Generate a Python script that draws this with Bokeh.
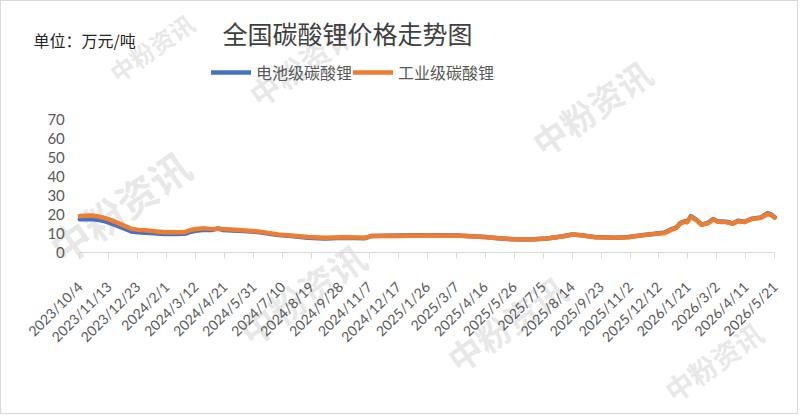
import math
import pandas as pd
from bokeh.plotting import figure
from bokeh.models import (ColumnDataSource, FixedTicker, Legend, LegendItem,
                          Label, Range1d)
from bokeh.embed import file_html
from bokeh.resources import INLINE

title_text = "全国碳酸锂价格走势图"
unit_text = "单位：万元/吨"
series_names = ["电池级碳酸锂", "工业级碳酸锂"]
watermark_text = "中粉资讯"

dates = [
    "2023-10-04", "2023-10-20", "2023-10-28", "2023-11-08", "2023-11-17",
    "2023-11-26", "2023-12-05", "2023-12-14", "2023-12-24", "2024-01-02",
    "2024-01-15", "2024-01-29", "2024-02-12", "2024-02-26", "2024-03-04",
    "2024-03-12", "2024-03-25", "2024-04-03", "2024-04-12", "2024-04-18",
    "2024-05-10", "2024-06-06", "2024-07-04", "2024-07-22", "2024-08-14",
    "2024-09-06", "2024-10-04", "2024-11-01", "2024-11-10", "2024-12-17",
    "2025-01-23", "2025-03-10", "2025-04-15", "2025-05-08", "2025-05-26",
    "2025-06-09", "2025-06-23", "2025-07-10", "2025-07-23", "2025-08-01",
    "2025-08-14", "2025-08-27", "2025-09-14", "2025-10-12", "2025-10-31",
    "2025-11-18", "2025-12-06", "2025-12-20", "2025-12-29", "2026-01-05",
    "2026-01-10", "2026-01-17", "2026-01-20", "2026-01-25", "2026-02-02",
    "2026-02-09", "2026-02-18", "2026-02-25", "2026-03-03", "2026-03-15",
    "2026-03-24", "2026-03-31", "2026-04-09", "2026-04-19", "2026-05-02",
    "2026-05-11", "2026-05-16", "2026-05-21",
]

battery = [
    17.4, 17.6, 17.2, 16.3, 15.1, 13.8, 12.4, 11.0, 10.5, 10.3,
    10.0, 9.6, 9.6, 9.7, 10.6, 11.3, 11.9, 11.7, 12.6, 11.8,
    11.4, 10.7, 9.1, 8.5, 7.7, 7.3, 7.6, 7.4, 8.6, 8.8,
    8.9, 8.8, 8.0, 7.3, 6.8, 6.7, 6.8, 7.3, 7.9, 8.4,
    9.4, 9.0, 8.0, 7.7, 8.0, 9.0, 9.7, 10.4, 12.1, 13.1,
    15.3, 16.5, 16.0, 19.1, 17.1, 14.6, 15.6, 17.5, 16.3, 16.1,
    15.2, 16.6, 16.1, 17.7, 18.4, 20.6, 19.9, 18.5,
]

industrial = [
    19.2, 19.4, 19.0, 18.0, 16.8, 15.4, 13.9, 12.4, 11.8, 11.6,
    11.1, 10.6, 10.6, 10.6, 11.6, 12.3, 12.6, 12.2, 12.4, 12.3,
    11.8, 11.0, 9.4, 8.8, 8.0, 7.6, 7.9, 7.6, 8.5, 8.6,
    8.8, 8.7, 8.0, 7.3, 6.8, 6.7, 6.8, 7.2, 7.9, 8.3,
    9.3, 8.9, 7.9, 7.6, 7.9, 8.9, 9.6, 10.2, 11.8, 12.8,
    15.0, 16.2, 15.8, 18.7, 16.8, 14.4, 15.4, 17.3, 16.1, 15.9,
    15.0, 16.4, 15.9, 17.5, 18.2, 20.3, 19.6, 18.2,
]

tick_labels = [
    "2023/10/4", "2023/11/13", "2023/12/23", "2024/2/1", "2024/3/12",
    "2024/4/21", "2024/5/31", "2024/7/10", "2024/8/19", "2024/9/28",
    "2024/11/7", "2024/12/17", "2025/1/26", "2025/3/7", "2025/4/16",
    "2025/5/26", "2025/7/5", "2025/8/14", "2025/9/23", "2025/11/2",
    "2025/12/12", "2026/1/21", "2026/3/2", "2026/4/11", "2026/5/21",
]

y_ticks = [0, 10, 20, 30, 40, 50, 60, 70]

BLUE = "#4472C4"
ORANGE = "#ED7D31"
TEXT = "#595959"
AXIS = "#D9D9D9"

start = pd.Timestamp(dates[0])
days = [(pd.Timestamp(d) - start).days for d in dates]
tick_days = [(pd.Timestamp(t.replace("/", "-")) - start).days for t in tick_labels]

src = ColumnDataSource(dict(x=days, battery=battery, industrial=industrial))

# ---- layout (page pixels; the figure sits at the page's top-left) ----
W, H = 798, 414
PAGE_X0, PAGE_Y0 = 0, 0
AX_LEFT, AX_RIGHT = 78.3, 773.3      # page x of first / last tick
AX_BOTTOM, AX_TOP = 250.7, 118.3     # page y of lowest / highest y tick

px_per_day = (AX_RIGHT - AX_LEFT) / (tick_days[-1] - tick_days[0])
px_per_unit = (AX_BOTTOM - AX_TOP) / (y_ticks[-1] - y_ticks[0])
x_start = tick_days[0] - (AX_LEFT - PAGE_X0) / px_per_day
x_end = tick_days[-1] + (PAGE_X0 + W - AX_RIGHT) / px_per_day
y_start = y_ticks[0] - (PAGE_Y0 + H - AX_BOTTOM) / px_per_unit
y_end = y_ticks[-1] + (AX_TOP - PAGE_Y0) / px_per_unit

p = figure(width=W, height=H, output_backend="svg", toolbar_location=None,
           x_range=Range1d(x_start, x_end), y_range=Range1d(y_start, y_end),
           min_border=0)
p.outline_line_color = None
p.xgrid.grid_line_color = None
p.ygrid.grid_line_color = None
p.background_fill_color = "white"
p.border_fill_color = "white"
p.styles = {"border": "1px solid #D9D9D9"}


def sx(page_x):
    return page_x - PAGE_X0


def sy(page_y):
    return PAGE_Y0 + H - page_y


# faint watermarks
for wx, wy, size in [(150, 46, 24), (300, 62, 30), (118, 205, 40),
                     (300, 292, 36), (505, 322, 34), (590, 106, 34),
                     (712, 360, 28)]:
    p.add_layout(Label(x=sx(wx), y=sy(wy), x_units="screen", y_units="screen",
                       text=watermark_text, angle=math.radians(35),
                       text_align="center", text_baseline="middle",
                       text_font_size=f"{size}px", text_font_style="bold",
                       text_color="#c4c4c4", text_alpha=0.4,
                       text_font="Noto Sans CJK SC", level="underlay"))

r_b = p.line("x", "battery", source=src, line_color=BLUE, line_width=4.5,
             line_cap="round", line_join="round")
r_o = p.line("x", "industrial", source=src, line_color=ORANGE, line_width=4.5,
             line_cap="round", line_join="round")

# axes, fixed at the data origin
xa = p.xaxis[0]
xa.fixed_location = y_ticks[0]
xa.bounds = (tick_days[0], tick_days[-1])
xa.ticker = FixedTicker(ticks=tick_days)
xa.major_label_overrides = {d: t for d, t in zip(tick_days, tick_labels)}
xa.major_label_orientation = math.pi / 4
xa.axis_line_color = AXIS
xa.major_tick_line_color = AXIS
xa.major_tick_out = 6
xa.major_tick_in = 0
xa.minor_tick_line_color = None
xa.major_label_text_color = TEXT
xa.major_label_text_font = "Lato"
xa.major_label_text_font_size = "14px"
xa.major_label_standoff = 26

ya = p.yaxis[0]
ya.fixed_location = tick_days[0]
ya.bounds = (y_ticks[0], y_ticks[-1])
ya.ticker = FixedTicker(ticks=y_ticks)
ya.axis_line_color = None
ya.major_tick_line_color = None
ya.major_tick_out = 0
ya.major_tick_in = 0
ya.minor_tick_line_color = None
ya.major_label_text_color = TEXT
ya.major_label_text_font = "Lato"
ya.major_label_text_font_size = "15px"
ya.major_label_standoff = 15

# title and unit
p.add_layout(Label(x=sx(346), y=sy(31), x_units="screen", y_units="screen",
                   text=title_text, text_align="center", text_baseline="middle",
                   text_font="Noto Sans CJK SC", text_font_size="25px",
                   text_color="#404040"))
p.add_layout(Label(x=sx(32), y=sy(38), x_units="screen", y_units="screen",
                   text=unit_text, text_align="left", text_baseline="middle",
                   text_font="Noto Sans CJK SC", text_font_size="16px",
                   text_color="#262626"))

legend = Legend(items=[LegendItem(label=series_names[0], renderers=[r_b]),
                       LegendItem(label=series_names[1], renderers=[r_o])],
                orientation="horizontal", location=(sx(210), sy(83)),
                padding=0, margin=0, spacing=1, label_standoff=5,
                glyph_width=40, glyph_height=20,
                label_text_font="Noto Sans CJK SC",
                label_text_font_size="16px", label_text_color=TEXT,
                border_line_color=None, background_fill_alpha=0)
p.add_layout(legend, "center")

open("out.html", "w").write(file_html(p, INLINE))
